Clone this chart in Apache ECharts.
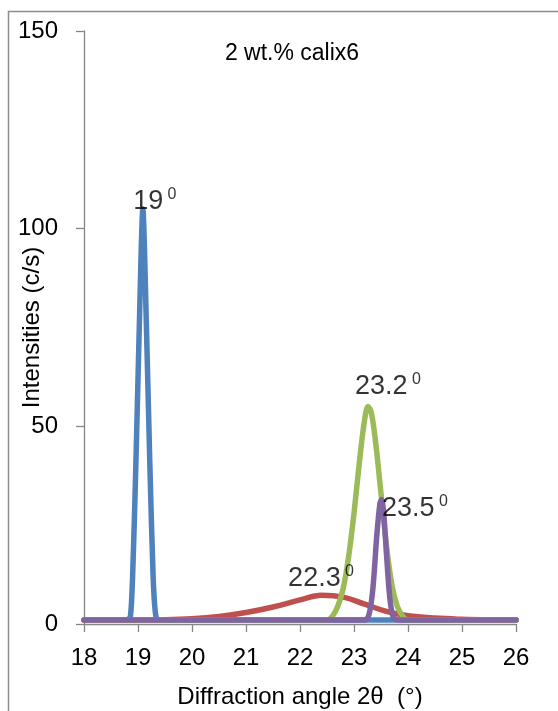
<!DOCTYPE html>
<html>
<head>
<meta charset="utf-8">
<script src="https://cdn.jsdelivr.net/npm/echarts@6/dist/echarts.min.js"></script>
<style>
  html, body { margin: 0; padding: 0; background: #ffffff; }
  #chart { width: 558px; height: 711px; }
</style>
</head>
<body>
<div id="chart"></div>
<script>
// ---- Data ----
var chartTitle = '2 wt.% calix6';
var xAxisName = 'Diffraction angle 2θ  (°)';
var yAxisName = 'Intensities (c/s)';

var xMin = 18, xMax = 26, xStep = 1;
var yMin = 0, yMax = 150, yStep = 50;

// Peak at 19° (blue)
var peak19X = [18, 18.5, 18.8, 18.86, 18.9, 18.96, 19.02, 19.09, 19.16, 19.22, 19.28, 19.32, 19.36, 19.4, 20, 21, 22, 23, 24, 25, 26];
var peak19Y = [1, 1, 1, 2, 12, 40, 73, 105, 73, 40, 12, 3, 1, 1, 1, 1, 1, 1, 1, 1, 1];

// Broad peak at 22.3° (red)
var peak223X = [18, 19, 19.5, 20, 20.5, 21, 21.5, 22, 22.4, 22.8, 23.2, 23.6, 24, 24.5, 25, 25.5, 26];
var peak223Y = [1, 1, 1.05, 1.3, 1.9, 2.9, 4.3, 6.1, 7.3, 6.8, 5.0, 3.2, 2.1, 1.5, 1.2, 1.05, 1];

// Peak at 23.2° (green)
var peak232X = [18, 20, 22, 22.5, 22.6, 22.7, 22.8, 22.9, 23.0, 23.1, 23.2, 23.26, 23.32, 23.4, 23.5, 23.6, 23.7, 23.8, 23.9, 24.0, 25, 26];
var peak232Y = [1, 1, 1, 1, 2, 4.5, 9, 17, 28, 41, 52, 55, 53.5, 46, 33, 20, 10, 4.5, 2, 1, 1, 1];

// Peak at 23.5° (purple)
var peak235X = [18, 20, 22, 23.2, 23.28, 23.35, 23.42, 23.48, 23.51, 23.55, 23.6, 23.66, 23.72, 23.8, 24, 25, 26];
var peak235Y = [1, 1, 1, 1, 2.5, 9, 22, 30.5, 31.5, 28, 18, 7, 2, 1, 1, 1, 1];

// Peak annotations (main text, superscript, anchor in data coords)
var annText = ['19', '23.2', '23.5', '22.3'];
var annSup  = ['0', '0', '0', '0'];
var annX    = [18.91, 23.02, 23.52, 21.78];
var annY    = [106.8, 60.0, 29.3, 11.6];

function zip(xs, ys) {
  var out = [];
  for (var i = 0; i < xs.length; i++) out.push([xs[i], ys[i]]);
  return out;
}

var FONT = '"Liberation Sans", Arial, sans-serif';
var axisColor = '#868686';

var annData = [];
for (var i = 0; i < annText.length; i++) {
  annData.push({ value: [annX[i], annY[i]], t: annText[i], s: annSup[i] });
}

var chart = echarts.init(document.getElementById('chart'), null, { renderer: 'canvas' });

var lineStyleBase = { width: 5.5, cap: 'round', join: 'round' };

chart.setOption({
  animation: false,
  backgroundColor: '#ffffff',
  title: {
    text: chartTitle,
    left: 287,
    top: 37,
    textAlign: 'center',
    textStyle: { fontFamily: FONT, fontSize: 23, fontWeight: 'normal', color: '#000000' }
  },
  graphic: [{
    type: 'rect',
    shape: { x: 8.5, y: 11.5, width: 700, height: 800 },
    style: { fill: 'none', stroke: '#8c8c8c', lineWidth: 1.5 },
    silent: true,
    z: -1
  }],
  grid: { left: 84, right: 42, top: 31, bottom: 87, containLabel: false, outerBoundsMode: 'none' },
  xAxis: {
    type: 'value',
    min: xMin, max: xMax, interval: xStep,
    name: xAxisName,
    nameLocation: 'middle',
    nameGap: 61,
    nameMoveOverlap: false,
    nameTextStyle: { fontFamily: FONT, fontSize: 24, color: '#000000' },
    axisLine: { show: true, onZero: false, lineStyle: { color: axisColor, width: 1.3 } },
    axisTick: { show: true, inside: false, length: 8, lineStyle: { color: axisColor, width: 1.3 } },
    axisLabel: { fontFamily: FONT, fontSize: 24, color: '#000000', margin: 22 },
    splitLine: { show: false }
  },
  yAxis: {
    type: 'value',
    min: yMin, max: yMax, interval: yStep,
    name: yAxisName,
    nameLocation: 'middle',
    nameGap: 40,
    nameRotate: 90,
    nameMoveOverlap: false,
    nameTextStyle: { fontFamily: FONT, fontSize: 24, color: '#000000' },
    axisLine: { show: true, lineStyle: { color: axisColor, width: 1.3 } },
    axisTick: { show: true, inside: false, length: 8, lineStyle: { color: axisColor, width: 1.3 } },
    axisLabel: { fontFamily: FONT, fontSize: 24, color: '#000000', margin: 26 },
    splitLine: { show: false }
  },
  series: [
    {
      name: '19', type: 'line', data: zip(peak19X, peak19Y), smooth: 0.25,
      showSymbol: false, symbol: 'none', color: '#4F81BD',
      lineStyle: Object.assign({ color: '#4F81BD' }, lineStyleBase), z: 2
    },
    {
      name: '22.3', type: 'line', data: zip(peak223X, peak223Y), smooth: 0.4,
      showSymbol: false, symbol: 'none', color: '#C0504D',
      lineStyle: Object.assign({ color: '#C0504D' }, lineStyleBase), z: 3
    },
    {
      name: '23.2', type: 'line', data: zip(peak232X, peak232Y), smooth: 0.35,
      showSymbol: false, symbol: 'none', color: '#9BBB59',
      lineStyle: Object.assign({ color: '#9BBB59' }, lineStyleBase), z: 4
    },
    {
      name: '23.5', type: 'line', data: zip(peak235X, peak235Y), smooth: 0.3,
      showSymbol: false, symbol: 'none', color: '#8064A2',
      lineStyle: Object.assign({ color: '#8064A2' }, lineStyleBase), z: 5
    },
    {
      name: 'labels', type: 'scatter', data: annData, symbolSize: 0, z: 10,
      silent: true,
      label: {
        show: true,
        position: 'inside',
        align: 'left',
        verticalAlign: 'middle',
        formatter: function (p) { return '{n|' + p.data.t + '}{g| }{s|' + p.data.s + '}'; },
        rich: {
          n: { fontFamily: FONT, fontSize: 27, color: '#000000' },
          g: { fontFamily: FONT, fontSize: 16, color: '#000000' },
          s: { fontFamily: FONT, fontSize: 16, color: '#000000', padding: [0, 0, 14, 0] }
        }
      }
    }
  ]
});
</script>
</body>
</html>
